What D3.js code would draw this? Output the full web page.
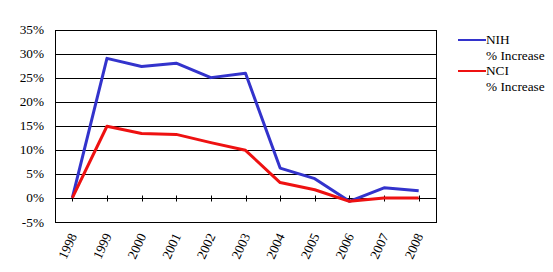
<!DOCTYPE html>
<html>
<head>
<meta charset="utf-8">
<script src="https://cdn.jsdelivr.net/npm/d3@7"></script>
<style>
  body { margin: 0; background: #fff; }
</style>
</head>
<body>
<svg id="chart"></svg>
<script>
const years = ["1998", "1999", "2000", "2001", "2002", "2003", "2004", "2005", "2006", "2007", "2008"];
const nih = [0, 29.0, 27.3, 28.0, 25.0, 25.9, 6.2, 4.0, -0.7, 2.1, 1.5];
const nci = [0, 14.9, 13.4, 13.2, 11.5, 9.9, 3.2, 1.7, -0.7, 0.0, 0.0];
const yTicks = [-5, 0, 5, 10, 15, 20, 25, 30, 35];
const seriesNames = ["NIH", "NCI"];
const seriesColors = ["#3333cc", "#ee1111"];

const width = 553, height = 272;
const fontFam = "'Liberation Serif', 'DejaVu Serif', serif";
const svg = d3.select("#chart")
    .attr("width", width).attr("height", height)
    .attr("font-family", fontFam);

const plotLeft = 55, plotRight = 436, plotTop = 29.5, plotBottom = 222;

const x = d3.scalePoint()
    .domain(years)
    .range([plotLeft, plotRight])
    .padding(0.5);

const y = d3.scaleLinear()
    .domain([-5, 35])
    .range([plotBottom, plotTop]);

// gridlines
svg.append("g")
  .selectAll("line")
  .data(yTicks)
  .join("line")
    .attr("x1", plotLeft).attr("x2", plotRight)
    .attr("y1", d => Math.round(y(d)) + 0.5)
    .attr("y2", d => Math.round(y(d)) + 0.5)
    .attr("stroke", "#000")
    .attr("stroke-width", 1);

// plot border
svg.append("rect")
    .attr("x", plotLeft + 0.5).attr("y", Math.round(plotTop) + 0.5)
    .attr("width", plotRight - plotLeft).attr("height", Math.round(plotBottom) - Math.round(plotTop))
    .attr("fill", "none")
    .attr("stroke", "#000");

// y labels
svg.append("g")
  .selectAll("text")
  .data(yTicks)
  .join("text")
    .attr("x", plotLeft - 11)
    .attr("y", d => y(d) + 4.5)
    .attr("text-anchor", "end")
    .attr("font-size", 13.3)
    .text(d => d + "%");

// x ticks on zero line
const zeroY = Math.round(y(0)) + 0.5;
svg.append("g")
  .selectAll("line")
  .data(years)
  .join("line")
    .attr("x1", d => Math.round(x(d)) + 0.5)
    .attr("x2", d => Math.round(x(d)) + 0.5)
    .attr("y1", zeroY - 3).attr("y2", zeroY + 3)
    .attr("stroke", "#000");

// x labels
svg.append("g")
  .selectAll("text")
  .data(years)
  .join("text")
    .attr("transform", d => `translate(${x(d) + 5},${plotBottom + 14}) rotate(-65)`)
    .attr("text-anchor", "end")
    .attr("font-size", 13.3)
    .text(d => d);

// lines
const line = d3.line()
    .x((d, i) => x(years[i]))
    .y(d => y(d));

[nih, nci].forEach((vals, k) => {
  svg.append("path")
      .datum(vals)
      .attr("d", line)
      .attr("fill", "none")
      .attr("stroke", seriesColors[k])
      .attr("stroke-width", 3)
      .attr("stroke-linejoin", "round");
});

// legend
const legend = svg.append("g");
seriesNames.forEach((name, k) => {
  const ly = 40 + k * 31;
  legend.append("line")
      .attr("x1", 458).attr("x2", 486)
      .attr("y1", ly).attr("y2", ly)
      .attr("stroke", seriesColors[k])
      .attr("stroke-width", 2);
  legend.append("text")
      .attr("x", 486).attr("y", ly + 4)
      .attr("font-size", 13.3)
      .text(name);
  legend.append("text")
      .attr("x", 486).attr("y", ly + 19.5)
      .attr("font-size", 13.3)
      .text("% Increase");
});
</script>
</body>
</html>
